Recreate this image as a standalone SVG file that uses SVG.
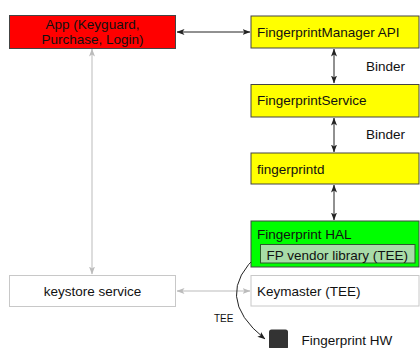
<svg xmlns="http://www.w3.org/2000/svg" width="420" height="348" viewBox="0 0 420 348">
<defs>
<style>
text{font-family:"Liberation Sans",Arial,sans-serif;font-size:13.5px;fill:#111}
.box{stroke:#444;stroke-width:1}
.light{fill:#fff;stroke:#c8c8c8;stroke-width:1}
.c{stroke:#222;stroke-width:1;fill:none}
.g{stroke:#bbb;stroke-width:1;fill:none}
</style>
<marker id="ab" viewBox="0 0 8 8" refX="7.5" refY="4" markerWidth="8" markerHeight="8" orient="auto-start-reverse" markerUnits="userSpaceOnUse">
<path d="M0,1 L8,4 L0,7 L2,4 Z" fill="#222"/>
</marker>
<marker id="ag" viewBox="0 0 8 8" refX="7.5" refY="4" markerWidth="8" markerHeight="8" orient="auto-start-reverse" markerUnits="userSpaceOnUse">
<path d="M0,1 L8,4 L0,7 L2,4 Z" fill="#bbb"/>
</marker>
</defs>
<rect width="420" height="348" fill="#fff"/>
<g id="connectors">
<line class="c" x1="177" y1="32" x2="250" y2="32" marker-start="url(#ab)" marker-end="url(#ab)"/>
<line class="c" x1="334" y1="49" x2="334" y2="83" marker-start="url(#ab)" marker-end="url(#ab)"/>
<line class="c" x1="334" y1="118" x2="334" y2="152" marker-start="url(#ab)" marker-end="url(#ab)"/>
<line class="c" x1="334" y1="185" x2="334" y2="220" marker-start="url(#ab)" marker-end="url(#ab)"/>
<line class="g" x1="92" y1="49" x2="92" y2="274" marker-start="url(#ag)" marker-end="url(#ag)"/>
<line class="g" x1="177" y1="291" x2="250" y2="291" marker-start="url(#ag)" marker-end="url(#ag)"/>
<path class="c" d="M259,254 Q211,296 265,339" marker-start="url(#ab)" marker-end="url(#ab)"/>
<text x="366" y="71">Binder</text>
<text x="366" y="139">Binder</text>
<text x="214" y="322" style="font-size:10px">TEE</text>
</g>
<g id="app">
<rect class="box" x="9.5" y="15.5" width="166" height="33" fill="#ff0000"/>
<text x="92.5" y="29" text-anchor="middle">App (Keyguard,</text>
<text x="92.5" y="44" text-anchor="middle">Purchase, Login)</text>
</g>
<g id="fpm">
<rect class="box" x="251" y="16" width="168" height="32" fill="#ffff00"/>
<text x="257" y="37">FingerprintManager API</text>
</g>
<g id="fps">
<rect class="box" x="251" y="84.5" width="168" height="32.5" fill="#ffff00"/>
<text x="257" y="105">FingerprintService</text>
</g>
<g id="fpd">
<rect class="box" x="251" y="153" width="168" height="31" fill="#ffff00"/>
<text x="257" y="173.5">fingerprintd</text>
</g>
<g id="hal">
<rect class="box" x="251" y="221" width="168" height="46" fill="#00ff00"/>
<text x="257" y="239">Fingerprint HAL</text>
</g>
<g id="vendor">
<rect x="260.5" y="244.5" width="154.5" height="18.5" fill="#a8dca8" stroke="#2d5a2d" stroke-width="1"/>
<text x="266.5" y="259.5">FP vendor library (TEE)</text>
</g>
<g id="keystore">
<rect class="light" x="9.5" y="275.5" width="166" height="31"/>
<text x="92.5" y="296" text-anchor="middle">keystore service</text>
</g>
<g id="keymaster">
<rect class="light" x="251" y="275.5" width="168" height="30.5"/>
<text x="257" y="296">Keymaster (TEE)</text>
</g>
<g id="hw">
<rect x="269" y="329.5" width="19" height="20" rx="2.5" fill="#333"/>
<text x="301.5" y="344.5">Fingerprint HW</text>
</g>
</svg>
